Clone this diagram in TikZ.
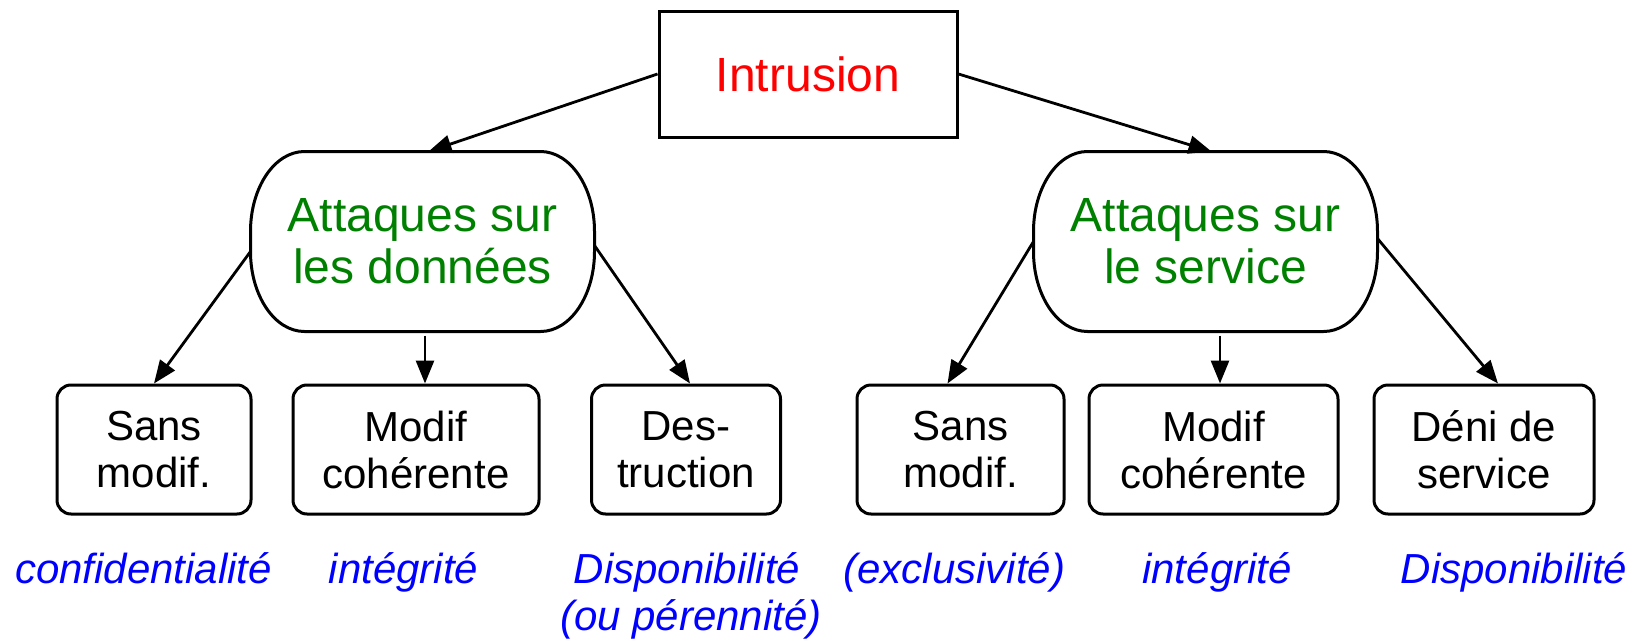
\documentclass[tikz,border=0pt]{standalone}
\usepackage{fontspec}
\setmainfont{Liberation Sans}
\usetikzlibrary{arrows.meta}
\definecolor{titlered}{RGB}{255,0,0}
\definecolor{branchgreen}{RGB}{0,128,0}
\definecolor{noteblue}{RGB}{0,0,255}
\begin{document}
\begin{tikzpicture}[x=1pt,y=-1pt,
  line width=3pt,
  arr/.style={-{Triangle[length=23pt,width=18pt]}, line width=2.8pt},
  topbox/.style={draw, rectangle, minimum width=298pt, minimum height=126pt,
    inner sep=0pt, font=\fontsize{48}{52}\selectfont, text=titlered},
  softbox/.style={minimum width=341pt, minimum height=177pt, inner sep=0pt,
    align=center, font=\fontsize{48}{52}\selectfont, text=branchgreen},
  leafbox/.style={draw, rounded corners=14pt, minimum height=129pt,
    inner sep=0pt, align=center, font=\fontsize{42}{47}\selectfont},
  note/.style={anchor=base, inner sep=0pt, text=noteblue,
    font=\fontsize{42}{48}\selectfont\itshape}
]
\useasboundingbox (0,0) rectangle (1639,640);

% root
\node[topbox] (intr) at (808,74) {Intrusion};

% two families of attacks
\node[softbox] (d)  at (422.5,241.5) {Attaques sur\\les données};
\node[softbox] (sv) at (1205.5,241.5) {Attaques sur\\le service};
\foreach \n in {d,sv}
  \draw ([xshift=54pt]\n.north west) -- ([xshift=-54pt]\n.north east)
    arc[start angle=90,end angle=0,x radius=54pt,y radius=80pt]
    -- ([yshift=80pt]\n.south east)
    arc[start angle=0,end angle=-90,x radius=54pt,y radius=80pt]
    -- ([xshift=54pt]\n.south west)
    arc[start angle=270,end angle=180,x radius=54pt,y radius=80pt]
    -- ([yshift=-80pt]\n.north west)
    arc[start angle=180,end angle=90,x radius=54pt,y radius=80pt]
    -- cycle;

% leaves
\node[leafbox, minimum width=194pt] (s1) at (154,449.5)   {Sans\\modif.};
\node[leafbox, minimum width=246pt] (s2) at (416,449.5)   {Modif\\cohérente};
\node[leafbox, minimum width=189pt] (s3) at (686,449.5)   {Des-\\truction};
\node[leafbox, minimum width=207pt] (s4) at (960.5,449.5) {Sans\\modif.};
\node[leafbox, minimum width=249pt] (s5) at (1213.5,449.5){Modif\\cohérente};
\node[leafbox, minimum width=220pt] (s6) at (1484,449.5)  {Déni de\\service};

% properties
\node[note] (n1)  at (143.5,583) {confidentialité};
\node[note] (n2)  at (403.5,583) {intégrité};
\node[note] (n3)  at (687,583)   {Disponibilité};
\node[note] (n3b) at (691,630)   {(ou pérennité)};
\node[note] (n4)  at (954.5,583) {(exclusivité)};
\node[note] (n5)  at (1217,583)  {intégrité};
\node[note] (n6)  at (1514,583)  {Disponibilité};

% connectors
\draw[arr] (intr.west) -- ([xshift=6pt]d.north);
\draw[arr] (intr.east) -- ([xshift=6pt]sv.north);
\draw[arr] ([yshift=-10pt]d.west) -- (s1.north);
\draw[arr] ([xshift=2.5pt,yshift=-4pt]d.south) -- ([xshift=9pt]s2.north);
\draw[arr] ([yshift=-4pt]d.east) -- ([xshift=4pt]s3.north);
\draw[arr] (sv.west) -- ([xshift=-13pt]s4.north);
\draw[arr] ([xshift=14.5pt,yshift=-4pt]sv.south) -- ([xshift=6.5pt]s5.north);
\draw[arr] ([yshift=3pt]sv.east) -- ([xshift=14pt]s6.north);
\end{tikzpicture}
\end{document}
